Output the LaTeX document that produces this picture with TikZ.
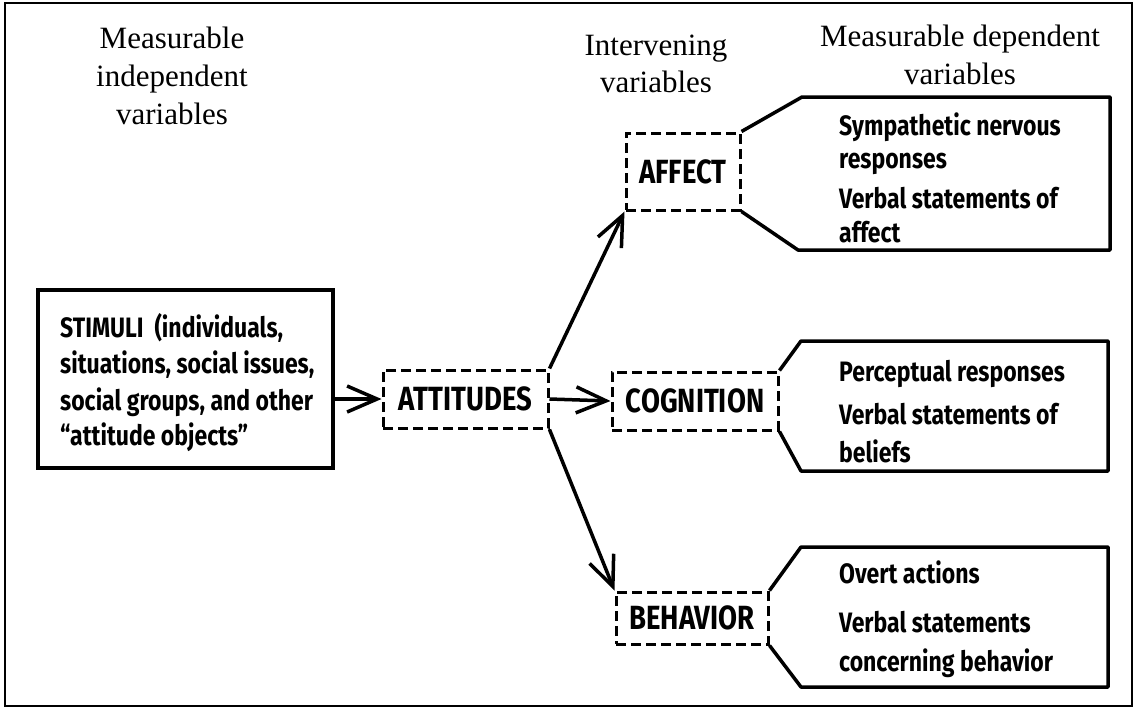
\documentclass[tikz,border=0pt]{standalone}
\usepackage{fontspec}
\setmainfont{Liberation Serif}
\newfontfamily\boxfont{Fira Sans}
\newcommand\tallbox[1]{\scalebox{1}[1.22]{#1}}
\usetikzlibrary{arrows.meta}
\tikzset{solidbox/.style={rectangle, draw, line width=3.5pt, inner sep=0pt}}
\tikzset{dashbox/.style={rectangle, draw, line width=3pt, dash pattern=on 10pt off 5pt,
   inner sep=0pt, font=\boxfont\bfseries\fontsize{27.5}{30}\selectfont}}
\tikzset{head/.style={anchor=base, inner sep=0pt, font=\fontsize{31}{38}\selectfont}}
\tikzset{item/.style={anchor=base west, inner sep=0pt, font=\boxfont\bfseries\fontsize{23}{36}\selectfont}}
\tikzset{link/.style={line width=3.5pt, -{Straight Barb[length=30pt,width=26pt]}}}
\tikzset{tag/.style={line width=3.5pt, line join=round}}

\begin{document}
\begin{tikzpicture}[x=1pt,y=-1pt]
    \useasboundingbox (0,0) rectangle (1136,713);
    \draw[line width=2pt] (5,3) rectangle (1132,706);

    % column heads
    \foreach \t [count=\i] in {Measurable, independent, variables}
      \node[head] (ind-\i) at (172, 10+38*\i) {\t};
    \foreach \t [count=\i] in {Intervening, variables}
      \node[head] (int-\i) at (656, 18+37*\i) {\t};
    \foreach \t [count=\i] in {Measurable dependent, variables}
      \node[head] (dep-\i) at (960, 8+38*\i) {\t};

    % boxes
    \node[solidbox, minimum width=295pt, minimum height=178pt] (stim) at (185.5,379) {};
    \node[dashbox, minimum width=165pt, minimum height=58pt] (att) at (465.5,399) {\tallbox{ATTITUDES}};
    \node[dashbox, minimum width=114pt, minimum height=77pt] (aff) at (683,171.5) {\tallbox{AFFECT}};
    \node[dashbox, minimum width=166pt, minimum height=58pt] (cog) at (695,401) {\tallbox{COGNITION}};
    \node[dashbox, minimum width=152pt, minimum height=52pt] (beh) at (692,618) {\tallbox{BEHAVIOR}};

    \foreach \y/\t [count=\i] in {337/{STIMULI\ \ (individuals,}, 373/{situations, social issues,},
        410/{social groups, and other}, 445/{“attitude objects”}}
      \node[item] (stim-\i) at (60,\y) {\tallbox{\t}};

    % measurable responses
    \draw[tag] (aff.north east) -- (802,97) -- (1110,97) -- (1110,250) -- (798,250) -- (aff.south east);
    \draw[tag] (cog.north east) -- (801,341) -- (1108,341) -- (1108,471) -- (801,471) -- (cog.south east);
    \draw[tag] (beh.north east) -- (801,547) -- (1108,547) -- (1108,687) -- (801,687) -- (beh.south east);

    \foreach \y/\t [count=\i] in {135/Sympathetic nervous, 168/responses, 208/Verbal statements of, 242/affect}
      \node[item] (aff-\i) at (839,\y) {\tallbox{\t}};
    \foreach \y/\t [count=\i] in {381/Perceptual responses, 424/Verbal statements of, 462/beliefs}
      \node[item] (cog-\i) at (839,\y) {\tallbox{\t}};
    \foreach \y/\t [count=\i] in {583/Overt actions, 632/Verbal statements, 671/concerning behavior}
      \node[item] (beh-\i) at (839,\y) {\tallbox{\t}};

    % arrows
    \draw[link] (stim.east |- att.west) -- (att.west);
    \draw[link] (att.north east) -- (aff.south west);
    \draw[link] (att.east) -- (cog.west);
    \draw[link] (att.south east) -- (beh.north west);

  \end{tikzpicture}
\end{document}
